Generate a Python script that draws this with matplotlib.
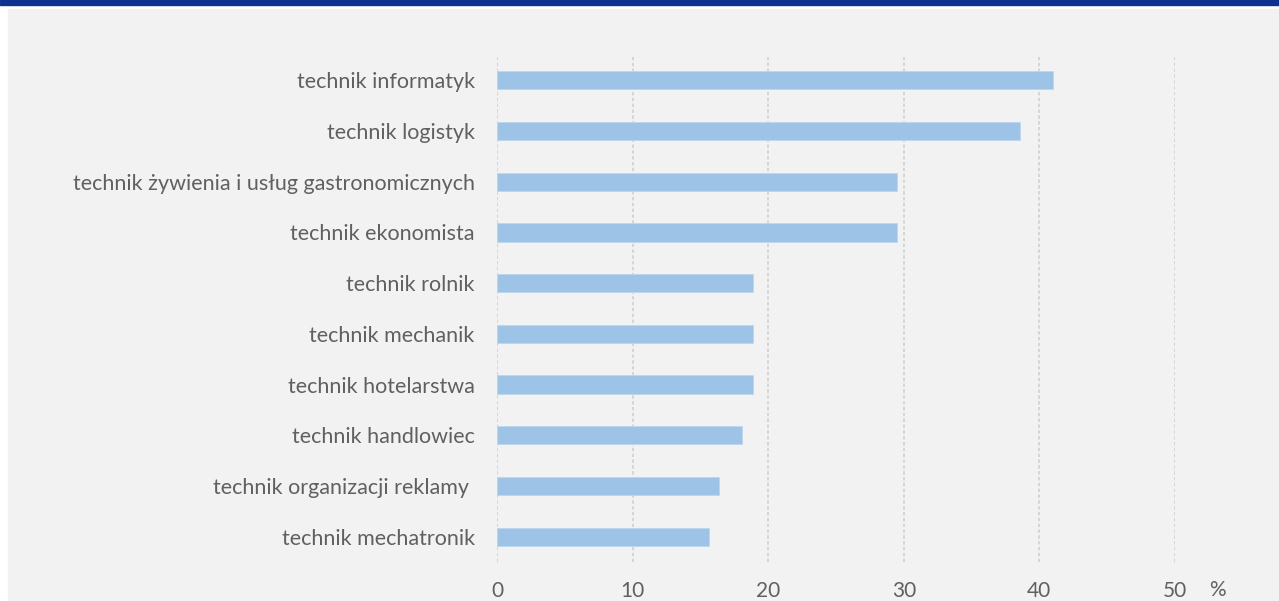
import matplotlib.pyplot as plt
import matplotlib.patches as patches

# data
categories = [
    "technik informatyk",
    "technik logistyk",
    "technik żywienia i usług gastronomicznych",
    "technik ekonomista",
    "technik rolnik",
    "technik mechanik",
    "technik hotelarstwa",
    "technik handlowiec",
    "technik organizacji reklamy ",
    "technik mechatronik",
]
values = [41.0, 38.6, 29.5, 29.5, 18.9, 18.9, 18.9, 18.1, 16.4, 15.6]
x_ticks = [0, 10, 20, 30, 40, 50]

plt.rcParams['font.family'] = ['Lato', 'DejaVu Sans']

fig = plt.figure(figsize=(12.79, 6.01), dpi=100)
fig.patch.set_facecolor('white')

# grey panel + blue band on top
fig.add_artist(patches.Rectangle((8 / 1279, 0), 1, 1 - 9 / 601,
                                 transform=fig.transFigure, color='#f2f2f2', zorder=0))
fig.add_artist(patches.Rectangle((0, 1 - 5 / 601), 1, 5 / 601,
                                 transform=fig.transFigure, color='#0d318f', zorder=1))

ax = fig.add_axes([497 / 1279, 39 / 601, (1175 - 497) / 1279, (562 - 55) / 601])
ax.set_facecolor('none')

ypos = list(range(len(categories)))
ax.barh(ypos, values, height=0.36, color='#9dc3e6', edgecolor='#bdd7ee', linewidth=0.6, zorder=3)
ax.set_ylim(len(categories) - 0.5, -0.5)
ax.set_xlim(0, 50)

ax.set_yticks(ypos)
ax.set_yticklabels(categories, fontsize=15.5, color='#606060')
ax.set_xticks(x_ticks)
ax.set_xticklabels([str(t) for t in x_ticks], fontsize=15, color='#606060')
ax.tick_params(axis='y', length=0, pad=16)
ax.tick_params(axis='x', length=0, pad=14)

for t in x_ticks:
    ax.axvline(t, color='#d0d0d0', linestyle=(0, (2, 1.5)), linewidth=1.2, zorder=1)

for s in ax.spines.values():
    s.set_visible(False)

fig.text(1217 / 1279, 1 - 590 / 601, '%', fontsize=15,
         color='#606060', ha='center', va='center')

fig.savefig('out.png', dpi=100)
